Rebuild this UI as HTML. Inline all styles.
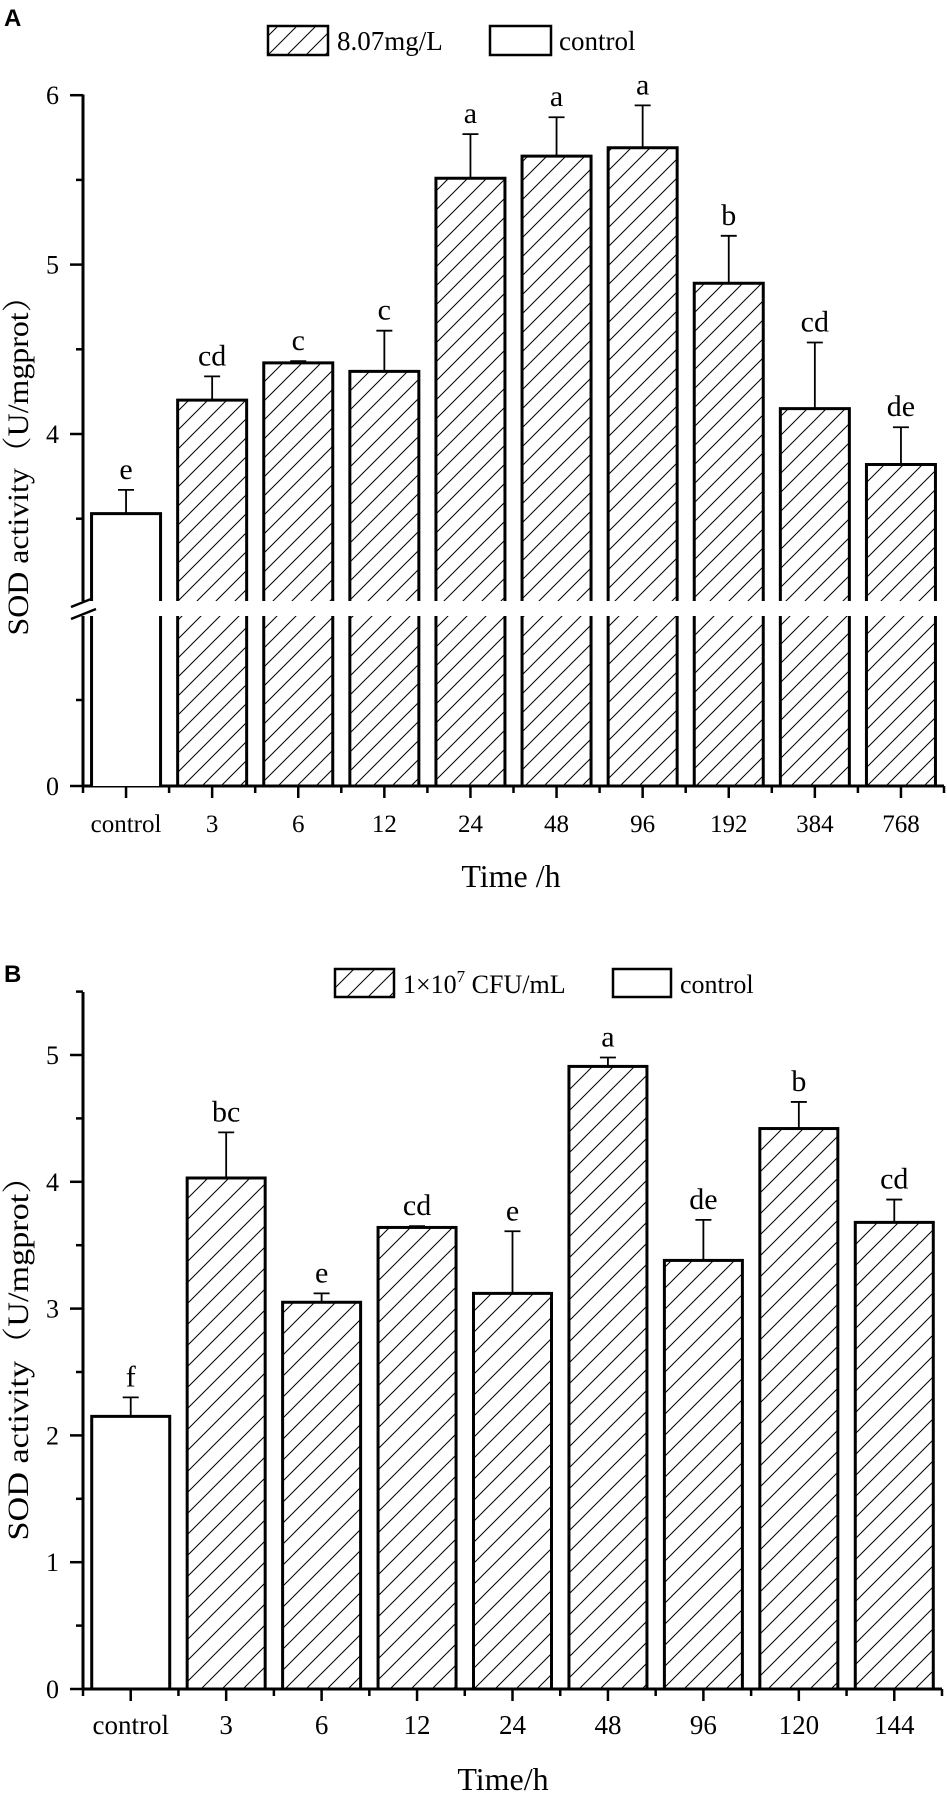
<!DOCTYPE html>
<html><head><meta charset="utf-8"><style>
html,body{margin:0;padding:0;background:#fff;}
svg{display:block;font-family:"Liberation Serif","Times New Roman",serif;}
</style></head><body>
<svg id="chart" width="947" height="1794" viewBox="0 0 947 1794" xmlns="http://www.w3.org/2000/svg">
<defs>
<pattern id="hatchA" patternUnits="userSpaceOnUse" width="19" height="19"><path d="M-2,21 L21,-2 M-2,2 L2,-2 M17,21 L21,17" stroke="#000" stroke-width="1"/></pattern>
<pattern id="hatchB" patternUnits="userSpaceOnUse" width="21" height="21"><path d="M-2,23 L23,-2 M-2,2 L2,-2 M19,23 L23,19" stroke="#000" stroke-width="1"/></pattern>
</defs>
<text x="4" y="26" font-family="Liberation Sans, sans-serif" font-weight="bold" font-size="24">A</text>
<text x="4" y="982" font-family="Liberation Sans, sans-serif" font-weight="bold" font-size="24">B</text>
<g id="gA"></g>
<g id="gB"></g>
</svg>
<script>
// Panel A data
const catsA = ["control","3","6","12","24","48","96","192","384","768"];
const valsA = [3.53,4.20,4.42,4.37,5.51,5.64,5.69,4.89,4.15,3.82];
const errsA = [0.14,0.14,0.01,0.24,0.26,0.23,0.25,0.28,0.39,0.22];
const lettersA = ["e","cd","c","c","a","a","a","b","cd","de"];
const ticksA = [4,5,6];
// Panel B data
const catsB = ["control","3","6","12","24","48","96","120","144"];
const valsB = [2.15,4.03,3.05,3.64,3.12,4.91,3.38,4.42,3.68];
const errsB = [0.15,0.36,0.07,0.01,0.49,0.07,0.32,0.21,0.18];
const lettersB = ["f","bc","e","cd","e","a","de","b","cd"];
const ticksB = [0,1,2,3,4,5];

const NS="http://www.w3.org/2000/svg";
function mk(parent,tag,attrs,txt){const e=document.createElementNS(NS,tag);for(const k in attrs)e.setAttribute(k,attrs[k]);if(txt!==undefined)e.textContent=txt;parent.appendChild(e);return e;}

// ---------- Panel A ----------
(function(){
const g=document.getElementById('gA');
const x0=83,x1=944,n=catsA.length,step=(x1-x0)/n,bw=69;
const xc=i=>x0+step*(i+0.5);
const yA=v=>434-(v-4)*169.4;
const y0=786,brTop=601,brBot=616;
// axes
let ax=mk(g,'path',{d:`M${x0},94.5 L${x0},${brTop} M${x0},${brBot} L${x0},${y0+1.5} M${x0-1.5},${y0} L${x1},${y0}`,stroke:'#000','stroke-width':3,fill:'none'});


let br=mk(g,'path',{d:`M71,607 L96,597 M71,619 L96,609`,stroke:'#000','stroke-width':2.5,fill:'none'});


ticksA.forEach(t=>{
  const y=yA(t);
  const tk=mk(g,'line',{x1:70,x2:x0,y1:y,y2:y,stroke:'#000','stroke-width':2.5});
  
  
  const lb=mk(g,'text',{x:59,y:y+9,'text-anchor':'end','font-size':26},String(t));
  
  
});
[3.5,4.5,5.5].forEach(t=>{mk(g,'line',{x1:76,x2:x0,y1:yA(t),y2:yA(t),stroke:'#000','stroke-width':2.5});});
mk(g,'line',{x1:76,x2:x0,y1:700,y2:700,stroke:'#000','stroke-width':2.5});
mk(g,'line',{x1:70,x2:x0,y1:y0,y2:y0,stroke:'#000','stroke-width':2.5});
const z=mk(g,'text',{x:59,y:y0+9,'text-anchor':'end','font-size':26},'0');


for(let i=0;i<=n;i++){mk(g,'line',{x1:x0+step*i,x2:x0+step*i,y1:y0,y2:y0+7,stroke:'#000','stroke-width':2.5});}
catsA.forEach((c,i)=>{
  const x=xc(i);
  mk(g,'line',{x1:x,x2:x,y1:y0,y2:y0+12,stroke:'#000','stroke-width':2.5});
  const l=mk(g,'text',{x:x,y:832,'text-anchor':'middle','font-size':25},c);
  
  
  const v=valsA[i],top=yA(v),et=yA(v+errsA[i]);
  const L=x-bw/2,R=x+bw/2,fill=i===0?'#fff':'url(#hatchA)';
  const bar=mk(g,'g',{});
  
  
  mk(bar,'rect',{x:L,y:top,width:bw,height:brTop-top,fill:fill});
  mk(bar,'rect',{x:L,y:brBot,width:bw,height:y0-brBot,fill:fill});
  mk(bar,'path',{d:`M${L},${brTop} L${L},${top} L${R},${top} L${R},${brTop} M${L},${brBot} L${L},${y0} M${R},${brBot} L${R},${y0}`,stroke:'#000','stroke-width':3,fill:'none'});
  const eb=mk(g,'path',{d:`M${x},${top} L${x},${et} M${x-8},${et} L${x+8},${et}`,stroke:'#000','stroke-width':1.8,fill:'none'});
  
  
  const lt=mk(g,'text',{x:x,y:et-11,'text-anchor':'middle','font-size':30},lettersA[i]);
  
  
});
const xt=mk(g,'text',{x:511,y:887,'text-anchor':'middle','font-size':32},'Time /h');


const yt=mk(g,'text',{x:0,y:0,'text-anchor':'middle','font-size':30,transform:'translate(28,458) rotate(-90)',textLength:355,lengthAdjust:'spacingAndGlyphs','font-family':'Liberation Serif, Noto Serif CJK SC, serif'},'SOD activity（U/mgprot）');


const lg=mk(g,'g',{});


mk(lg,'rect',{x:268,y:26,width:60,height:29,fill:'url(#hatchA)',stroke:'#000','stroke-width':2.5});
mk(lg,'text',{x:337,y:50,'font-size':27},'8.07mg/L');
mk(lg,'rect',{x:490,y:26,width:61,height:29,fill:'#fff',stroke:'#000','stroke-width':2.5});
mk(lg,'text',{x:559,y:50,'font-size':27},'control');
})();

// ---------- Panel B ----------
(function(){
const g=document.getElementById('gB');
const x0=83,x1=942,n=catsB.length,step=(x1-x0)/n,bw=78;
const xc=i=>x0+step*(i+0.5);
const yB=v=>1689-v*126.8;
const y0=yB(0);
const ax=mk(g,'path',{d:`M${x0},992 L${x0},${y0+1.5} M${x0-1.5},${y0} L${x1},${y0}`,stroke:'#000','stroke-width':3,fill:'none'});


ticksB.forEach(t=>{
  const y=yB(t);
  mk(g,'line',{x1:70,x2:x0,y1:y,y2:y,stroke:'#000','stroke-width':2.5});
  const lb=mk(g,'text',{x:59,y:y+9,'text-anchor':'end','font-size':26},String(t));
  
  
  mk(g,'line',{x1:76,x2:x0,y1:yB(t+0.5),y2:yB(t+0.5),stroke:'#000','stroke-width':2.5});
});
for(let i=0;i<=n;i++){mk(g,'line',{x1:x0+step*i,x2:x0+step*i,y1:y0,y2:y0+7,stroke:'#000','stroke-width':2.5});}
catsB.forEach((c,i)=>{
  const x=xc(i);
  mk(g,'line',{x1:x,x2:x,y1:y0,y2:y0+12,stroke:'#000','stroke-width':2.5});
  const l=mk(g,'text',{x:x,y:1734,'text-anchor':'middle','font-size':27},c);
  
  
  const v=valsB[i],top=yB(v),et=yB(v+errsB[i]);
  const r=mk(g,'rect',{x:x-bw/2,y:top,width:bw,height:y0-top,fill:i===0?'#fff':'url(#hatchB)',stroke:'#000','stroke-width':3});
  
  
  const eb=mk(g,'path',{d:`M${x},${top} L${x},${et} M${x-8},${et} L${x+8},${et}`,stroke:'#000','stroke-width':1.8,fill:'none'});
  
  
  const lt=mk(g,'text',{x:x,y:et-11,'text-anchor':'middle','font-size':30},lettersB[i]);
  
  
});
const xt=mk(g,'text',{x:503,y:1790,'text-anchor':'middle','font-size':32},'Time/h');


const yt=mk(g,'text',{x:0,y:0,'text-anchor':'middle','font-size':30,transform:'translate(28,1350) rotate(-90)',textLength:381,lengthAdjust:'spacingAndGlyphs','font-family':'Liberation Serif, Noto Serif CJK SC, serif'},'SOD activity（U/mgprot）');


const lg=mk(g,'g',{});


mk(lg,'rect',{x:335,y:969,width:59,height:28,fill:'url(#hatchB)',stroke:'#000','stroke-width':2.5});
const t1=mk(lg,'text',{x:403,y:993,'font-size':26},'1×10');
mk(t1,'tspan',{'font-size':17,dy:-11},'7');
mk(t1,'tspan',{dy:11},' CFU/mL');
mk(lg,'rect',{x:613,y:969,width:58,height:28,fill:'#fff',stroke:'#000','stroke-width':2.5});
mk(lg,'text',{x:680,y:993,'font-size':26},'control');
})();
</script>
</body></html>
